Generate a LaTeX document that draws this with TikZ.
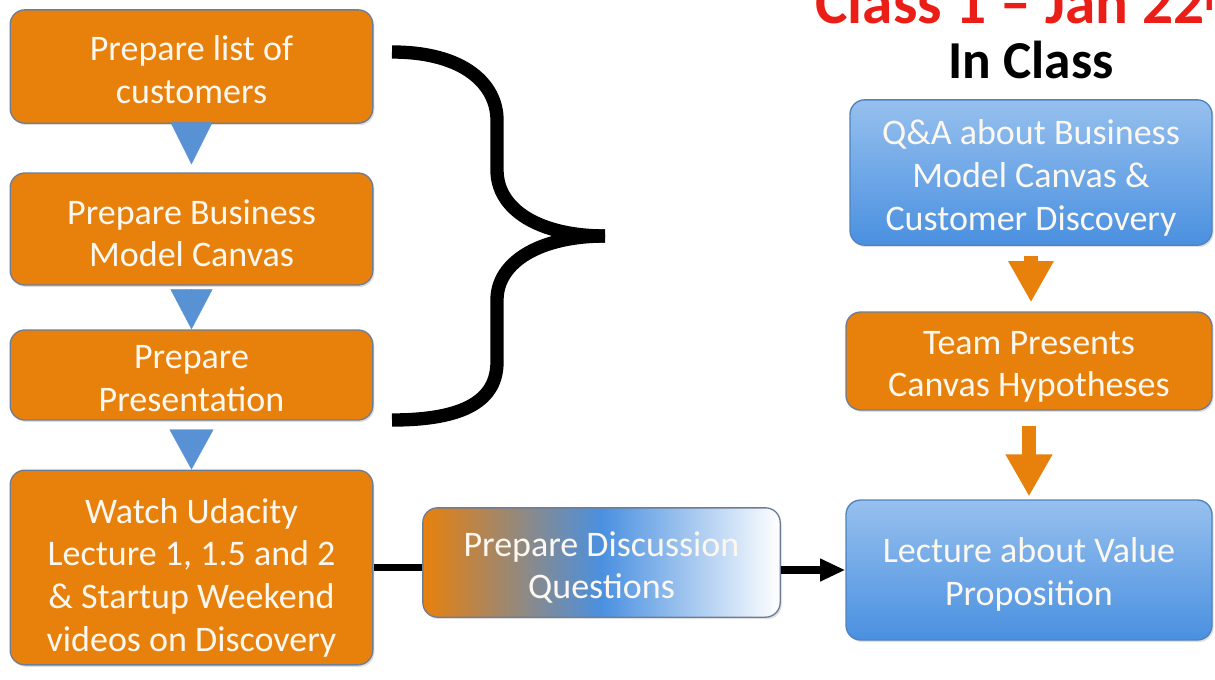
\documentclass[tikz,border=0pt]{standalone}
\usepackage{fontspec}
\setmainfont{Carlito}
\usetikzlibrary{arrows.meta,calc,shadows}

\definecolor{taskorange}{RGB}{232,128,12}
\definecolor{taskedge}{RGB}{110,125,150}
\definecolor{tipblue}{RGB}{88,146,212}
\definecolor{skytop}{RGB}{150,192,238}
\definecolor{skybottom}{RGB}{74,144,224}
\definecolor{skyedge}{RGB}{80,130,190}
\definecolor{headred}{RGB}{234,30,22}
\definecolor{paper}{RGB}{252,248,240}

% strut in the first line pushes the text a bit down in its box
\newcommand\sinkby[1]{\rule{0pt}{#1}}

\tikzset{
  task/.style={draw=taskedge, line width=1pt, rounded corners=11pt, align=center,
    text=paper, font=\fontsize{27}{32}\selectfont, inner sep=0pt,
    drop shadow={opacity=0.25, shadow xshift=1.2pt, shadow yshift=-1.5pt}},
  work/.style={task, fill=taskorange},
  talk/.style={task, draw=skyedge, top color=skytop, bottom color=skybottom},
  bluetip/.style={tipblue, line width=0.2pt},
  bigtip/.style={taskorange, line width=10.5pt},
}

\begin{document}
\begin{tikzpicture}[x=0.75pt,y=-0.75pt]
\useasboundingbox (0,0) rectangle (1215,679);
\fill[white] (0,0) rectangle (1215,679);
\clip (0,0) rectangle (1215,679);

% heading
\node[anchor=base west, text=headred, font=\fontsize{46}{46}\selectfont\bfseries, inner sep=0pt] (date) at (815,23) {Class 1 -- Jan 22\textsuperscript{nd}};
\node[anchor=base, font=\fontsize{40}{40}\selectfont\bfseries, inner sep=0pt] (inclass) at (1031,78) {In Class};

% before class
\node[work, minimum width=272pt, minimum height=85pt] (list) at (191.5,66.5) {\sinkby{23pt}Prepare list of\\customers};
\node[work, minimum width=272pt, minimum height=84pt] (canvas) at (191.5,229) {\sinkby{25pt}Prepare Business\\Model Canvas};
\node[work, minimum width=272pt, minimum height=67.5pt] (pres) at (191.5,375) {\sinkby{23pt}Prepare\\Presentation};
\node[work, minimum width=272pt, minimum height=146pt] (watch) at (191.5,567.5) {\sinkby{34pt}Watch Udacity\\Lecture 1, 1.5 and 2\\\& Startup Weekend\\videos on Discovery};
\node[task, left color=taskorange, right color=white, middle color=skybottom, minimum width=268pt, minimum height=82pt] (quest) at (601.5,562.5) {\sinkby{26pt}Prepare Discussion\\Questions};

% in class
\node[talk, minimum width=271.5pt, minimum height=109pt] (qa) at (1031,172.5) {\sinkby{27pt}Q\&A about Business\\Model Canvas \&\\Customer Discovery};
\node[work, minimum width=274.5pt, minimum height=73.5pt] (team) at (1029,361) {\sinkby{26pt}Team Presents\\Canvas Hypotheses};
\node[talk, minimum width=274.5pt, minimum height=105pt] (value) at (1029,570) {\sinkby{25pt}Lecture about Value\\Proposition};

\draw[bluetip, -{Triangle[length=31.5pt, width=31.5pt]}, shorten >=6pt] (list.south) -- (canvas.north);
\draw[bluetip, -{Triangle[length=30pt, width=31.5pt]}, shorten <=3.75pt] (canvas.south) -- (pres.north);
\draw[bluetip, -{Triangle[length=30pt, width=33pt]}, shorten <=7.5pt] (pres.south) -- (watch.north);

\draw[bigtip, -{Triangle[length=31pt, width=32pt]}, shorten <=7.5pt, shorten >=6.75pt] (qa.south) -- (qa.south |- team.north);
\draw[bigtip, -{Triangle[length=31.5pt, width=33pt]}, shorten <=11.25pt, shorten >=2.25pt] (team.south) -- (team.south |- value.north);

\draw[line width=5.5pt] (watch.east) -- (watch.east -| quest.west);
\draw[line width=5.5pt, -{Triangle[length=19pt, width=16pt]}] (value.west -| quest.east) -- (value.west);

% brace
\draw[line width=10pt] (392,52) .. controls (465,52) and (497,85) .. (497,120) -- (497,170) .. controls (497,210) and (540,236) .. (605,236);
\draw[line width=10pt] (605,236) .. controls (540,236) and (497,262) .. (497,300) -- (497,362) .. controls (497,400) and (465,420) .. (392,420);
\end{tikzpicture}
\end{document}
